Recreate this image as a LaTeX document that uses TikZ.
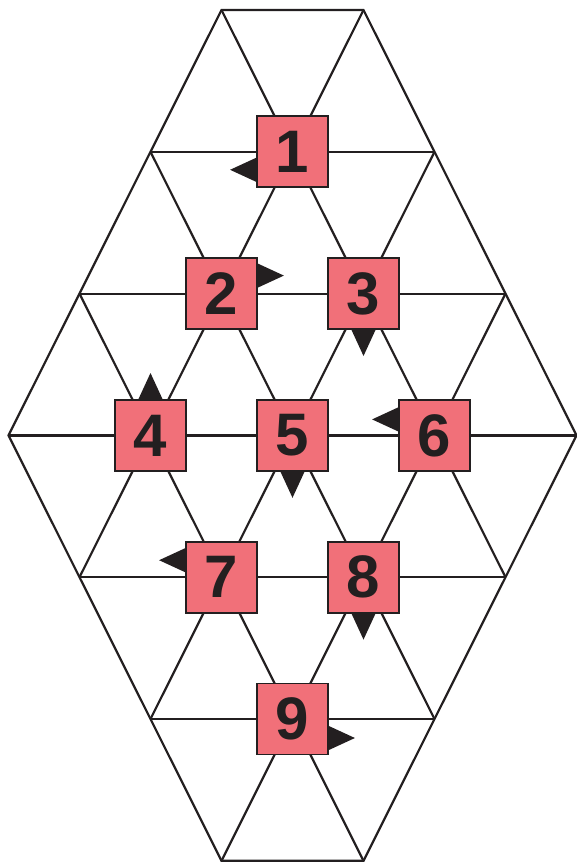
\documentclass[tikz,border=0pt]{standalone}
\usepackage{fontspec}
\setmainfont{Liberation Sans}
\usetikzlibrary{calc}
\definecolor{ink}{RGB}{35,31,32}
\definecolor{tilepink}{RGB}{241,112,121}

\begin{document}
\begin{tikzpicture}[
      x=71pt, y=-141.8pt,
      grid/.style={draw=ink, line width=2.2pt},
      tile/.style={draw=ink, fill=tilepink, line width=1.8pt, inner sep=0pt,
                   minimum size=71pt, font=\bfseries\fontsize{60}{60}\selectfont,
                   text=ink},
      marker/.pic={\fill[ink] (0pt,-12pt) -- (26pt,0pt) -- (0pt,12pt) -- cycle;}
    ]
    \useasboundingbox (-4.1197,-0.0705) rectangle (3.9930,6.0155);

    % triangular grid
    \foreach \v/\w in {0/1, 1/2, 2/3, 3/4, 4/3, 5/2, 6/1}
      \draw[grid] (-\w,\v) -- (\w,\v);
    \foreach \u/\v in {-1/0, -2/1, -3/2}{
      \draw[grid] (\u,\v) -- ({\u+4},{\v+4});
      \draw[grid] ({-\u},\v) -- ({-\u-4},{\v+4});
    }
    \draw[grid] (-1,0) -- (1,0) -- (4,3) -- (1,6) -- (-1,6) -- (-4,3) -- cycle;

    % numbered tiles
    \node[tile] (t1) at (0,1)  {1};
    \node[tile] (t2) at (-1,2) {2};
    \node[tile] (t3) at (1,2)  {3};
    \node[tile] (t4) at (-2,3) {4};
    \node[tile] (t5) at (0,3)  {5};
    \node[tile] (t6) at (2,3)  {6};
    \node[tile] (t7) at (-1,4) {7};
    \node[tile] (t8) at (1,4)  {8};
    \node[tile] (t9) at (0,5)  {9};

    % direction markers
    \pic[rotate=180] at ($(t1.west)+(0,-18pt)$) {marker};
    \pic             at ($(t2.east)+(0,18pt)$)  {marker};
    \pic[rotate=-90] at (t3.south)              {marker};
    \pic[rotate=90]  at (t4.north)              {marker};
    \pic[rotate=-90] at (t5.south)              {marker};
    \pic[rotate=180] at ($(t6.west)+(0,16pt)$)  {marker};
    \pic[rotate=180] at ($(t7.west)+(0,17pt)$)  {marker};
    \pic[rotate=-90] at (t8.south)              {marker};
    \pic             at ($(t9.east)+(0,-19pt)$) {marker};
  \end{tikzpicture}
\end{document}
